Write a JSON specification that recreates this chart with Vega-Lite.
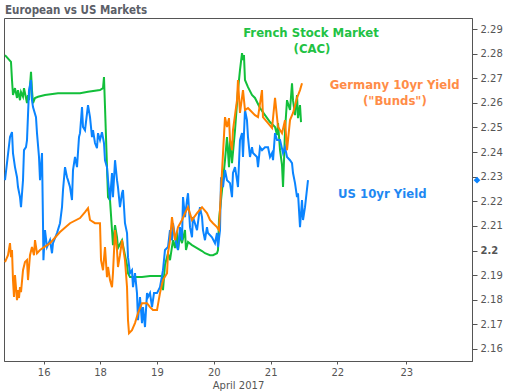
{
  "$schema": "https://vega.github.io/schema/vega-lite/v6.json",
  "width": 468,
  "height": 343,
  "autosize": {"type": "none"},
  "padding": {"left": 4, "top": 18, "right": 36, "bottom": 31},
  "background": "white",
  "title": {
    "text": "European vs US Markets",
    "anchor": "start",
    "frame": "group",
    "baseline": "alphabetic",
    "offset": 5,
    "dx": 1,
    "dy": 12,
    "font": "DejaVu Sans Condensed, Liberation Sans, sans-serif",
    "fontSize": 11.5,
    "fontWeight": "bold",
    "color": "#5c6068"
  },
  "config": {
    "view": {"stroke": "#555555", "strokeWidth": 1},
    "axis": {"grid": false, "domainColor": "#555555", "tickColor": "#555555", "labelColor": "#555555", "labelFont": "DejaVu Sans", "labelFontSize": 10, "titleFont": "DejaVu Sans", "titleFontSize": 10, "titleFontWeight": "normal", "titleColor": "#555555"}
  },
  "datasets": {
    "lines": [
      {"series":"CAC","day":14.625,"value":2.2794},{"series":"CAC","day":14.838,"value":2.2767},{"series":"CAC","day":14.874,"value":2.2693},{"series":"CAC","day":14.909,"value":2.2632},{"series":"CAC","day":14.98,"value":2.266},{"series":"CAC","day":15.052,"value":2.262},{"series":"CAC","day":15.087,"value":2.2652},{"series":"CAC","day":15.158,"value":2.2611},{"series":"CAC","day":15.194,"value":2.2644},{"series":"CAC","day":15.265,"value":2.2625},{"series":"CAC","day":15.3,"value":2.266},{"series":"CAC","day":15.371,"value":2.262},{"series":"CAC","day":15.407,"value":2.2599},{"series":"CAC","day":15.442,"value":2.2632},{"series":"CAC","day":15.478,"value":2.2611},{"series":"CAC","day":15.549,"value":2.2726},{"series":"CAC","day":15.584,"value":2.2652},{"series":"CAC","day":15.62,"value":2.2599},{"series":"CAC","day":15.691,"value":2.262},{"series":"CAC","day":15.798,"value":2.2625},{"series":"CAC","day":16.046,"value":2.2632},{"series":"CAC","day":16.508,"value":2.2639},{"series":"CAC","day":17.29,"value":2.2639},{"series":"CAC","day":17.574,"value":2.2645},{"series":"CAC","day":18.0,"value":2.2652},{"series":"CAC","day":18.053,"value":2.266},{"series":"CAC","day":18.07,"value":2.2705},{"series":"CAC","day":18.088,"value":2.2583},{"series":"CAC","day":18.123,"value":2.2339},{"series":"CAC","day":18.141,"value":2.2217},{"series":"CAC","day":18.176,"value":2.2205},{"series":"CAC","day":18.211,"value":2.2083},{"series":"CAC","day":18.228,"value":2.2022},{"series":"CAC","day":18.264,"value":2.2103},{"series":"CAC","day":18.299,"value":2.2054},{"series":"CAC","day":18.316,"value":2.201},{"series":"CAC","day":18.387,"value":2.2042},{"series":"CAC","day":18.439,"value":2.1981},{"series":"CAC","day":18.475,"value":2.1941},{"series":"CAC","day":18.492,"value":2.1908},{"series":"CAC","day":18.527,"value":2.1892},{"series":"CAC","day":18.738,"value":2.1892},{"series":"CAC","day":18.879,"value":2.1896},{"series":"CAC","day":19.09,"value":2.1896},{"series":"CAC","day":19.107,"value":2.1839},{"series":"CAC","day":19.142,"value":2.1941},{"series":"CAC","day":19.195,"value":2.1989},{"series":"CAC","day":19.23,"value":2.1961},{"series":"CAC","day":19.283,"value":2.2042},{"series":"CAC","day":19.318,"value":2.201},{"series":"CAC","day":19.353,"value":2.2075},{"series":"CAC","day":19.371,"value":2.2002},{"series":"CAC","day":19.406,"value":2.2063},{"series":"CAC","day":19.441,"value":2.203},{"series":"CAC","day":19.494,"value":2.2083},{"series":"CAC","day":19.511,"value":2.2002},{"series":"CAC","day":19.547,"value":2.2035},{"series":"CAC","day":19.617,"value":2.2022},{"series":"CAC","day":19.705,"value":2.201},{"series":"CAC","day":19.793,"value":2.1998},{"series":"CAC","day":19.845,"value":2.1989},{"series":"CAC","day":19.933,"value":2.1981},{"series":"CAC","day":19.986,"value":2.1981},{"series":"CAC","day":20.056,"value":2.1989},{"series":"CAC","day":20.074,"value":2.2002},{"series":"CAC","day":20.091,"value":2.2124},{"series":"CAC","day":20.127,"value":2.2205},{"series":"CAC","day":20.162,"value":2.2286},{"series":"CAC","day":20.197,"value":2.2367},{"series":"CAC","day":20.232,"value":2.2461},{"series":"CAC","day":20.267,"value":2.2339},{"series":"CAC","day":20.285,"value":2.2449},{"series":"CAC","day":20.32,"value":2.2355},{"series":"CAC","day":20.373,"value":2.2489},{"series":"CAC","day":20.425,"value":2.2652},{"series":"CAC","day":20.46,"value":2.2733},{"series":"CAC","day":20.496,"value":2.2802},{"series":"CAC","day":20.513,"value":2.2774},{"series":"CAC","day":20.53,"value":2.2794},{"series":"CAC","day":20.548,"value":2.2693},{"series":"CAC","day":20.601,"value":2.2664},{"series":"CAC","day":20.671,"value":2.2632},{"series":"CAC","day":20.724,"value":2.262},{"series":"CAC","day":20.812,"value":2.2579},{"series":"CAC","day":20.9,"value":2.255},{"series":"CAC","day":20.988,"value":2.2522},{"series":"CAC","day":21.065,"value":2.2502},{"series":"CAC","day":21.095,"value":2.2469},{"series":"CAC","day":21.11,"value":2.2518},{"series":"CAC","day":21.14,"value":2.2408},{"series":"CAC","day":21.17,"value":2.2347},{"series":"CAC","day":21.185,"value":2.2258},{"series":"CAC","day":21.2,"value":2.2367},{"series":"CAC","day":21.215,"value":2.2489},{"series":"CAC","day":21.245,"value":2.2611},{"series":"CAC","day":21.29,"value":2.2571},{"series":"CAC","day":21.32,"value":2.268},{"series":"CAC","day":21.335,"value":2.2611},{"series":"CAC","day":21.365,"value":2.255},{"series":"CAC","day":21.395,"value":2.2632},{"series":"CAC","day":21.41,"value":2.2538},{"series":"CAC","day":21.44,"value":2.2591},{"series":"CAC","day":21.455,"value":2.2522},
      {"series":"US","day":14.625,"value":2.2286},{"series":"US","day":14.696,"value":2.2355},{"series":"US","day":14.803,"value":2.2461},{"series":"US","day":14.874,"value":2.2481},{"series":"US","day":14.909,"value":2.2396},{"series":"US","day":14.98,"value":2.2339},{"series":"US","day":15.052,"value":2.2298},{"series":"US","day":15.087,"value":2.2258},{"series":"US","day":15.158,"value":2.2217},{"series":"US","day":15.194,"value":2.2176},{"series":"US","day":15.265,"value":2.2286},{"series":"US","day":15.3,"value":2.2408},{"series":"US","day":15.371,"value":2.242},{"series":"US","day":15.407,"value":2.2449},{"series":"US","day":15.478,"value":2.2652},{"series":"US","day":15.549,"value":2.2693},{"series":"US","day":15.584,"value":2.2611},{"series":"US","day":15.62,"value":2.2583},{"series":"US","day":15.726,"value":2.2542},{"series":"US","day":15.762,"value":2.2477},{"series":"US","day":15.833,"value":2.238},{"series":"US","day":15.869,"value":2.2286},{"series":"US","day":15.94,"value":2.2396},{"series":"US","day":15.975,"value":2.2111},{"series":"US","day":15.99,"value":2.1961},{"series":"US","day":16.046,"value":2.2083},{"series":"US","day":16.117,"value":2.2014},{"series":"US","day":16.224,"value":2.2042},{"series":"US","day":16.295,"value":2.1989},{"series":"US","day":16.33,"value":2.203},{"series":"US","day":16.472,"value":2.2071},{"series":"US","day":16.579,"value":2.2111},{"series":"US","day":16.65,"value":2.2176},{"series":"US","day":16.686,"value":2.2246},{"series":"US","day":16.757,"value":2.2339},{"series":"US","day":16.828,"value":2.2298},{"series":"US","day":16.863,"value":2.2286},{"series":"US","day":16.934,"value":2.2258},{"series":"US","day":17.005,"value":2.2205},{"series":"US","day":17.041,"value":2.2327},{"series":"US","day":17.112,"value":2.238},{"series":"US","day":17.183,"value":2.2339},{"series":"US","day":17.254,"value":2.2461},{"series":"US","day":17.29,"value":2.2477},{"series":"US","day":17.361,"value":2.2583},{"series":"US","day":17.396,"value":2.2502},{"series":"US","day":17.467,"value":2.2489},{"series":"US","day":17.574,"value":2.2591},{"series":"US","day":17.645,"value":2.2542},{"series":"US","day":17.716,"value":2.2461},{"series":"US","day":17.751,"value":2.2489},{"series":"US","day":17.822,"value":2.2437},{"series":"US","day":17.893,"value":2.2416},{"series":"US","day":17.929,"value":2.2477},{"series":"US","day":18.0,"value":2.2449},{"series":"US","day":18.035,"value":2.2481},{"series":"US","day":18.07,"value":2.2437},{"series":"US","day":18.088,"value":2.2367},{"series":"US","day":18.123,"value":2.2339},{"series":"US","day":18.141,"value":2.2286},{"series":"US","day":18.176,"value":2.2205},{"series":"US","day":18.211,"value":2.2315},{"series":"US","day":18.228,"value":2.2217},{"series":"US","day":18.264,"value":2.2367},{"series":"US","day":18.299,"value":2.2286},{"series":"US","day":18.316,"value":2.2258},{"series":"US","day":18.351,"value":2.2176},{"series":"US","day":18.387,"value":2.2233},{"series":"US","day":18.404,"value":2.2246},{"series":"US","day":18.439,"value":2.2111},{"series":"US","day":18.475,"value":2.2071},{"series":"US","day":18.492,"value":2.1973},{"series":"US","day":18.527,"value":2.1908},{"series":"US","day":18.562,"value":2.192},{"series":"US","day":18.58,"value":2.1851},{"series":"US","day":18.615,"value":2.1908},{"series":"US","day":18.65,"value":2.1827},{"series":"US","day":18.668,"value":2.1717},{"series":"US","day":18.703,"value":2.1811},{"series":"US","day":18.738,"value":2.1705},{"series":"US","day":18.756,"value":2.177},{"series":"US","day":18.791,"value":2.1689},{"series":"US","day":18.826,"value":2.1827},{"series":"US","day":18.844,"value":2.1811},{"series":"US","day":18.879,"value":2.1827},{"series":"US","day":18.914,"value":2.177},{"series":"US","day":18.949,"value":2.1827},{"series":"US","day":19.002,"value":2.1827},{"series":"US","day":19.054,"value":2.1851},{"series":"US","day":19.107,"value":2.192},{"series":"US","day":19.142,"value":2.2002},{"series":"US","day":19.195,"value":2.2014},{"series":"US","day":19.23,"value":2.2083},{"series":"US","day":19.265,"value":2.2042},{"series":"US","day":19.283,"value":2.2111},{"series":"US","day":19.318,"value":2.2054},{"series":"US","day":19.353,"value":2.2014},{"series":"US","day":19.371,"value":2.2002},{"series":"US","day":19.406,"value":2.2095},{"series":"US","day":19.441,"value":2.2042},{"series":"US","day":19.459,"value":2.2217},{"series":"US","day":19.494,"value":2.2136},{"series":"US","day":19.529,"value":2.2205},{"series":"US","day":19.547,"value":2.2233},{"series":"US","day":19.582,"value":2.2095},{"series":"US","day":19.617,"value":2.2054},{"series":"US","day":19.634,"value":2.2136},{"series":"US","day":19.705,"value":2.2083},{"series":"US","day":19.757,"value":2.2176},{"series":"US","day":19.793,"value":2.2136},{"series":"US","day":19.81,"value":2.2083},{"series":"US","day":19.845,"value":2.2042},{"series":"US","day":19.88,"value":2.2095},{"series":"US","day":19.898,"value":2.2071},{"series":"US","day":19.968,"value":2.2054},{"series":"US","day":20.021,"value":2.203},{"series":"US","day":20.056,"value":2.2071},{"series":"US","day":20.074,"value":2.2014},{"series":"US","day":20.109,"value":2.2083},{"series":"US","day":20.127,"value":2.2298},{"series":"US","day":20.162,"value":2.2258},{"series":"US","day":20.197,"value":2.2327},{"series":"US","day":20.232,"value":2.2286},{"series":"US","day":20.285,"value":2.2274},{"series":"US","day":20.32,"value":2.2217},{"series":"US","day":20.337,"value":2.2315},{"series":"US","day":20.373,"value":2.2339},{"series":"US","day":20.408,"value":2.2286},{"series":"US","day":20.425,"value":2.2258},{"series":"US","day":20.46,"value":2.2449},{"series":"US","day":20.496,"value":2.2477},{"series":"US","day":20.513,"value":2.238},{"series":"US","day":20.548,"value":2.2571},{"series":"US","day":20.583,"value":2.253},{"series":"US","day":20.601,"value":2.2461},{"series":"US","day":20.636,"value":2.238},{"series":"US","day":20.671,"value":2.242},{"series":"US","day":20.689,"value":2.2396},{"series":"US","day":20.759,"value":2.238},{"series":"US","day":20.777,"value":2.2339},{"series":"US","day":20.812,"value":2.242},{"series":"US","day":20.847,"value":2.2408},{"series":"US","day":20.9,"value":2.242},{"series":"US","day":20.953,"value":2.242},{"series":"US","day":20.988,"value":2.238},{"series":"US","day":21.02,"value":2.2396},{"series":"US","day":21.035,"value":2.2367},{"series":"US","day":21.065,"value":2.2477},{"series":"US","day":21.095,"value":2.2449},{"series":"US","day":21.14,"value":2.2449},{"series":"US","day":21.185,"value":2.2396},{"series":"US","day":21.215,"value":2.242},{"series":"US","day":21.245,"value":2.238},{"series":"US","day":21.29,"value":2.2367},{"series":"US","day":21.32,"value":2.2355},{"series":"US","day":21.335,"value":2.2315},{"series":"US","day":21.365,"value":2.2274},{"series":"US","day":21.395,"value":2.2217},{"series":"US","day":21.41,"value":2.2233},{"series":"US","day":21.44,"value":2.2095},{"series":"US","day":21.47,"value":2.2205},{"series":"US","day":21.485,"value":2.2124},{"series":"US","day":21.515,"value":2.2176},{"series":"US","day":21.56,"value":2.2286},
      {"series":"Bund","day":14.625,"value":2.1953},{"series":"Bund","day":14.732,"value":2.1981},{"series":"Bund","day":14.803,"value":2.203},{"series":"Bund","day":14.838,"value":2.1973},{"series":"Bund","day":14.874,"value":2.2002},{"series":"Bund","day":14.909,"value":2.188},{"series":"Bund","day":14.945,"value":2.1811},{"series":"Bund","day":14.98,"value":2.19},{"series":"Bund","day":15.052,"value":2.1798},{"series":"Bund","day":15.087,"value":2.1839},{"series":"Bund","day":15.123,"value":2.1807},{"series":"Bund","day":15.158,"value":2.1851},{"series":"Bund","day":15.194,"value":2.1831},{"series":"Bund","day":15.265,"value":2.192},{"series":"Bund","day":15.336,"value":2.1953},{"series":"Bund","day":15.407,"value":2.1961},{"series":"Bund","day":15.442,"value":2.188},{"series":"Bund","day":15.513,"value":2.1981},{"series":"Bund","day":15.584,"value":2.2014},{"series":"Bund","day":15.655,"value":2.1981},{"series":"Bund","day":15.691,"value":2.2042},{"series":"Bund","day":15.762,"value":2.1989},{"series":"Bund","day":15.869,"value":2.2002},{"series":"Bund","day":16.224,"value":2.203},{"series":"Bund","day":16.579,"value":2.2075},{"series":"Bund","day":16.934,"value":2.2111},{"series":"Bund","day":17.29,"value":2.2132},{"series":"Bund","day":17.467,"value":2.2156},{"series":"Bund","day":17.574,"value":2.2172},{"series":"Bund","day":17.645,"value":2.2124},{"series":"Bund","day":17.822,"value":2.2111},{"series":"Bund","day":18.0,"value":2.2111},{"series":"Bund","day":18.018,"value":2.1961},{"series":"Bund","day":18.053,"value":2.192},{"series":"Bund","day":18.088,"value":2.2014},{"series":"Bund","day":18.123,"value":2.1892},{"series":"Bund","day":18.141,"value":2.1933},{"series":"Bund","day":18.176,"value":2.188},{"series":"Bund","day":18.211,"value":2.1851},{"series":"Bund","day":18.228,"value":2.1908},{"series":"Bund","day":18.264,"value":2.2083},{"series":"Bund","day":18.299,"value":2.2002},{"series":"Bund","day":18.316,"value":2.1933},{"series":"Bund","day":18.351,"value":2.1981},{"series":"Bund","day":18.387,"value":2.2042},{"series":"Bund","day":18.439,"value":2.1961},{"series":"Bund","day":18.475,"value":2.1851},{"series":"Bund","day":18.492,"value":2.1717},{"series":"Bund","day":18.51,"value":2.1664},{"series":"Bund","day":18.562,"value":2.1676},{"series":"Bund","day":18.615,"value":2.1705},{"series":"Bund","day":18.668,"value":2.1746},{"series":"Bund","day":18.738,"value":2.1786},{"series":"Bund","day":18.826,"value":2.1786},{"series":"Bund","day":18.879,"value":2.177},{"series":"Bund","day":18.931,"value":2.1758},{"series":"Bund","day":19.002,"value":2.1758},{"series":"Bund","day":19.054,"value":2.1827},{"series":"Bund","day":19.107,"value":2.188},{"series":"Bund","day":19.178,"value":2.1908},{"series":"Bund","day":19.195,"value":2.1989},{"series":"Bund","day":19.23,"value":2.2042},{"series":"Bund","day":19.265,"value":2.2136},{"series":"Bund","day":19.318,"value":2.2042},{"series":"Bund","day":19.371,"value":2.2095},{"series":"Bund","day":19.441,"value":2.2124},{"series":"Bund","day":19.494,"value":2.2152},{"series":"Bund","day":19.547,"value":2.2176},{"series":"Bund","day":19.617,"value":2.2124},{"series":"Bund","day":19.705,"value":2.2152},{"series":"Bund","day":19.793,"value":2.2176},{"series":"Bund","day":19.88,"value":2.2152},{"series":"Bund","day":19.933,"value":2.2124},{"series":"Bund","day":19.986,"value":2.2111},{"series":"Bund","day":20.056,"value":2.2095},{"series":"Bund","day":20.091,"value":2.2083},{"series":"Bund","day":20.127,"value":2.2246},{"series":"Bund","day":20.162,"value":2.2396},{"series":"Bund","day":20.197,"value":2.2542},{"series":"Bund","day":20.232,"value":2.2502},{"series":"Bund","day":20.267,"value":2.2538},{"series":"Bund","day":20.285,"value":2.2449},{"series":"Bund","day":20.32,"value":2.2408},{"series":"Bund","day":20.337,"value":2.2489},{"series":"Bund","day":20.408,"value":2.2611},{"series":"Bund","day":20.425,"value":2.2693},{"series":"Bund","day":20.46,"value":2.2559},{"series":"Bund","day":20.513,"value":2.2652},{"series":"Bund","day":20.548,"value":2.2571},{"series":"Bund","day":20.601,"value":2.2579},{"series":"Bund","day":20.724,"value":2.255},{"series":"Bund","day":20.777,"value":2.2542},{"series":"Bund","day":20.847,"value":2.2652},{"series":"Bund","day":20.864,"value":2.2542},{"series":"Bund","day":20.953,"value":2.2518},{"series":"Bund","day":21.02,"value":2.2498},{"series":"Bund","day":21.065,"value":2.262},{"series":"Bund","day":21.11,"value":2.2502},{"series":"Bund","day":21.17,"value":2.2477},{"series":"Bund","day":21.215,"value":2.253},{"series":"Bund","day":21.245,"value":2.2408},{"series":"Bund","day":21.29,"value":2.253},{"series":"Bund","day":21.335,"value":2.2559},{"series":"Bund","day":21.395,"value":2.262},{"series":"Bund","day":21.44,"value":2.2652},{"series":"Bund","day":21.47,"value":2.268}
    ],
    "notes": [
      {"series":"CAC","day":21.605,"value":2.2866,"label":"French Stock Market"},
      {"series":"CAC","day":21.62,"value":2.2801,"label":"(CAC)"},
      {"series":"Bund","day":22.832,"value":2.2655,"label":"Germany 10yr Yield"},
      {"series":"Bund","day":22.835,"value":2.2591,"label":"(\"Bunds\")"},
      {"series":"US","day":22.652,"value":2.2213,"label":"US 10yr Yield"}
    ],
    "last": [
      {"day":23.952,"value":2.2286}
    ]
  },
  "encoding": {
    "x": {
      "field": "day",
      "type": "quantitative",
      "scale": {"domain": [14.59, 16, 18, 21, 22, 23, 23.952], "range": [0, 39.7, 96, 266.7, 333.3, 402.3, 468], "nice": false, "zero": false},
      "axis": {"values": [16, 18, 19, 20, 21, 22, 23], "format": "d", "title": "April 2017", "tickSize": 3, "labelPadding": 3, "titlePadding": 3}
    },
    "y": {
      "field": "value",
      "type": "quantitative",
      "scale": {"domain": [2.1551, 2.2945], "nice": false, "zero": false},
      "axis": {
        "orient": "right",
        "values": [2.16, 2.17, 2.18, 2.19, 2.2, 2.21, 2.22, 2.23, 2.24, 2.25, 2.26, 2.27, 2.28, 2.29],
        "format": ".2~f",
        "title": null,
        "tickSize": 5,
        "labelPadding": 3,
        "labelFontWeight": {"expr": "datum.value == 2.2 ? 'bold' : 'normal'"}
      }
    }
  },
  "layer": [
    {
      "data": {"name": "lines"},
      "mark": {"type": "line", "strokeWidth": 2, "clip": true},
      "encoding": {
        "color": {"field": "series", "type": "nominal", "legend": null, "sort": null,
          "scale": {"domain": ["CAC", "US", "Bund"], "range": ["#12bf3a", "#0a84ff", "#ff8000"]}}
      }
    },
    {
      "data": {"name": "notes"},
      "mark": {"type": "text", "align": "center", "baseline": "alphabetic", "font": "DejaVu Sans Condensed, Liberation Sans, sans-serif", "fontSize": 13, "fontWeight": "bold"},
      "encoding": {
        "text": {"field": "label", "type": "nominal"},
        "color": {"field": "series", "type": "nominal", "legend": null,
          "scale": {"domain": ["CAC", "US", "Bund"], "range": ["#22c244", "#1e88f2", "#ff8c47"]}}
      }
    },
    {
      "data": {"name": "last"},
      "mark": {"type": "point", "shape": "diamond", "filled": true, "size": 45, "color": "#0a84ff", "opacity": 1, "xOffset": 5}
    }
  ],
  "resolve": {"scale": {"color": "independent"}}
}
